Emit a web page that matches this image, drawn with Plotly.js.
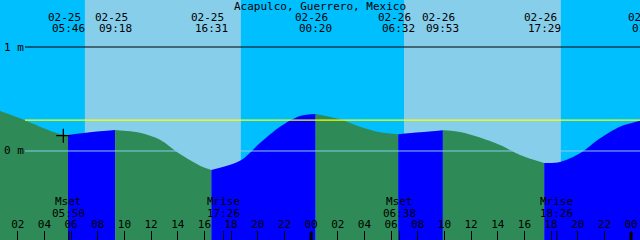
<!DOCTYPE html>
<html><head><meta charset="utf-8">
<script src="https://cdn.plot.ly/plotly-3.0.1.min.js"></script>
<style>html,body{margin:0;padding:0;background:#00BFFF;overflow:hidden}#chart{width:640px;height:240px}</style>
</head><body><div id="chart"></div>
<script>
const stationName = 'Acapulco, Guerrero, Mexico';
const viewStart = '2025-02-25 00:40';
const viewEnd = '2025-02-27 00:40';

// tide height readings (m)
const curveTimes = [
  '2025-02-25 00:40','2025-02-25 02:10','2025-02-25 03:40','2025-02-25 05:10','2025-02-25 05:46',
  '2025-02-25 07:25','2025-02-25 09:18','2025-02-25 11:10','2025-02-25 12:40','2025-02-25 14:10',
  '2025-02-25 15:40','2025-02-25 16:31','2025-02-25 18:40','2025-02-25 20:10','2025-02-25 21:40',
  '2025-02-25 23:10','2025-02-26 00:20','2025-02-26 02:10','2025-02-26 03:40','2025-02-26 05:10',
  '2025-02-26 06:32','2025-02-26 08:10','2025-02-26 09:53','2025-02-26 11:10','2025-02-26 12:40',
  '2025-02-26 14:10','2025-02-26 15:40','2025-02-26 17:29','2025-02-26 18:40','2025-02-26 20:10',
  '2025-02-26 21:40','2025-02-26 23:10','2025-02-27 00:40'];
const curveHeights = [
  0.385, 0.314, 0.234, 0.163, 0.154,
  0.180, 0.202, 0.175, 0.108, -0.030,
  -0.142, -0.183, -0.095, 0.077, 0.234,
  0.337, 0.356, 0.305, 0.234, 0.180,
  0.161, 0.180, 0.199, 0.183, 0.130,
  0.058, -0.038, -0.115, -0.106, -0.022,
  0.122, 0.234, 0.291];

const tideTimes = ['2025-02-25 05:46','2025-02-25 09:18','2025-02-25 16:31','2025-02-26 00:20',
                   '2025-02-26 06:32','2025-02-26 09:53','2025-02-26 17:29','2025-02-27 01:18'];
const sunriseTimes = ['2025-02-25 07:02','2025-02-26 06:58'];
const sunsetTimes  = ['2025-02-25 18:44','2025-02-26 18:44'];
const moonLabels = ['Mset','Mrise','Mset','Mrise'];
const moonTimes  = ['2025-02-25 05:50','2025-02-25 17:26','2025-02-26 06:38','2025-02-26 18:26'];
const midnightTimes = ['2025-02-26 00:00','2025-02-27 00:00'];
const depthLevels = [1, 0];
const depthLabels = ['1 m', '0 m'];
const meanLevel = 0.296;
const markTime = '2025-02-25 05:25';
const markHeight = 0.147;
const yRange = [-0.856, 1.452];

const C = {night:'#00BFFF', day:'#87CEEB', ebb:'#2E8B57', flood:'#0000FF', mean:'#FFFF00', zero:'#87CEEB'};
const FONT = 'DejaVu Sans Mono';
const W = 640, H = 240;

function ms(s){ return Date.parse(s.replace(' ','T') + ':00Z'); }
const t0 = ms(viewStart), t1 = ms(viewEnd);
function frac(s){ return (ms(s) - t0) / (t1 - t0); }

// build segments split at tide extremes
const cutIdx = [0];
tideTimes.forEach(t => { const i = curveTimes.indexOf(t); if (i > 0 && i < curveTimes.length - 1) cutIdx.push(i); });
cutIdx.push(curveTimes.length - 1);

const traces = [];
for (let k = 0; k < cutIdx.length - 1; k++) {
  const a = cutIdx[k], b = cutIdx[k+1];
  const xs = curveTimes.slice(a, b + 1), ys = curveHeights.slice(a, b + 1);
  const rising = ys[ys.length-1] > ys[0];
  traces.push({x:[xs[0], xs[xs.length-1]], y:[yRange[0], yRange[0]], mode:'lines', line:{width:0}, hoverinfo:'skip', showlegend:false});
  traces.push({x:xs, y:ys, mode:'lines', line:{width:0, shape:'spline', smoothing:0.9}, fill:'tonexty',
               fillcolor: rising ? C.flood : C.ebb, hoverinfo:'skip', showlegend:false});
}
traces.push({x:[markTime], y:[markHeight], mode:'markers', marker:{symbol:'cross-thin', size:10, color:'#000', line:{width:1.3, color:'#000'}}, showlegend:false, hoverinfo:'skip'});

const shapes = [];
for (let i = 0; i < sunriseTimes.length; i++) {
  shapes.push({type:'rect', xref:'x', yref:'paper', x0:sunriseTimes[i], x1:sunsetTimes[i], y0:0, y1:1, fillcolor:C.day, line:{width:0}, layer:'below'});
}
depthLevels.forEach((d, i) => {
  shapes.push({type:'line', xref:'paper', yref:'y', x0:25/W, x1:1, y0:d, y1:d, line:{color: d === 0 ? C.zero : '#000', width:1}, layer:'above'});
});
shapes.push({type:'line', xref:'paper', yref:'y', x0:25/W, x1:1, y0:meanLevel, y1:meanLevel, line:{color:C.mean, width:1.2}, layer:'above'});
moonTimes.forEach(t => shapes.push({type:'line', xref:'x', yref:'paper', x0:t, x1:t, y0:0, y1:9/H, line:{color:'#000', width:1}, layer:'above'}));
midnightTimes.forEach(t => shapes.push({type:'line', xref:'x', yref:'paper', x0:t, x1:t, y0:0, y1:8/H, line:{color:'#000', width:3}, layer:'above'}));

const ann = [];
const f = {family:FONT, size:11, color:'#000'};
function py(px){ return 1 - px / H; }
tideTimes.forEach(t => {
  const fx = frac(t);
  ann.push({xref:'paper', yref:'paper', x:fx, y:py(17.5), text:t.substr(5,5), showarrow:false, font:f, xanchor:'center', yanchor:'middle', xshift:-4});
  ann.push({xref:'paper', yref:'paper', x:fx, y:py(28.5), text:t.substr(11,5), showarrow:false, font:f, xanchor:'center', yanchor:'middle'});
});
moonTimes.forEach((t, i) => {
  const fx = frac(t);
  ann.push({xref:'paper', yref:'paper', x:fx, y:py(201.5), text:moonLabels[i], showarrow:false, font:f, xanchor:'center', yanchor:'middle'});
  ann.push({xref:'paper', yref:'paper', x:fx, y:py(213), text:t.substr(11,5), showarrow:false, font:f, xanchor:'center', yanchor:'middle'});
});
depthLevels.forEach((d, i) => {
  ann.push({xref:'paper', yref:'y', x:2/W, y:d, text:depthLabels[i], showarrow:false, font:f, xanchor:'left', yanchor:'middle'});
});

const layout = {
  width:W, height:H, margin:{l:0, r:0, t:0, b:0, pad:0},
  paper_bgcolor:C.night, plot_bgcolor:C.night,
  title:{text:stationName, font:f, x:0.5, xref:'paper', y:py(6), yref:'container', xanchor:'center', yanchor:'middle'},
  showlegend:false, hovermode:false,
  xaxis:{type:'date', range:[viewStart, viewEnd], showgrid:false, zeroline:false, showline:false,
         ticks:'inside', ticklen:9, tickwidth:1, tickcolor:'#000', tick0:'2025-02-25 00:00', dtick:7200000,
         tickformat:'%H', tickfont:f, ticklabelposition:'inside', fixedrange:true},
  yaxis:{range:yRange, visible:false, showgrid:false, zeroline:false, fixedrange:true},
  shapes:shapes, annotations:ann
};
Plotly.newPlot('chart', traces, layout, {staticPlot:true, displayModeBar:false});
</script></body></html>
